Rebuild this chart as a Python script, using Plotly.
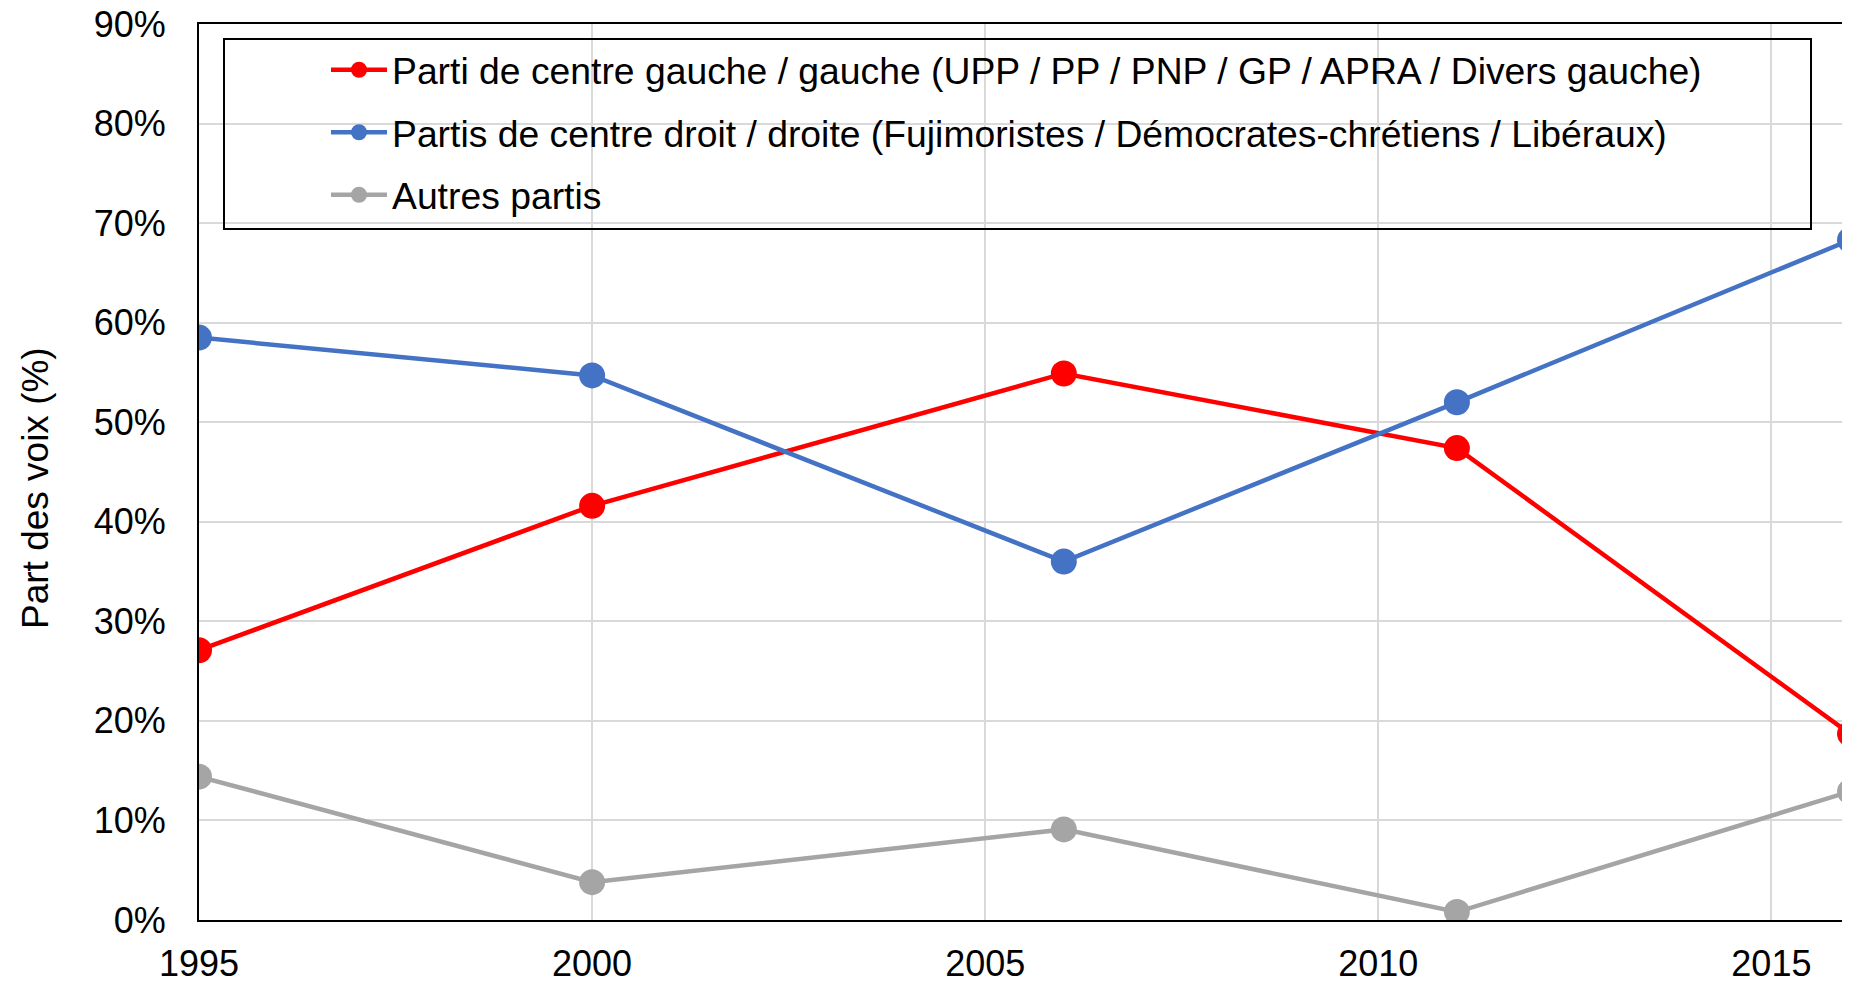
import plotly.graph_objects as go

years = [1995, 2000, 2006, 2011, 2016]
gauche = [27.1, 41.6, 54.9, 47.4, 18.7]
droite = [58.5, 54.7, 36.0, 52.0, 68.3]
autres = [14.4, 3.8, 9.1, 0.8, 12.9]

names = [
    "Parti de centre gauche / gauche (UPP / PP / PNP / GP / APRA / Divers gauche)",
    "Partis de centre droit / droite (Fujimoristes / Démocrates-chrétiens / Libéraux)",
    "Autres partis",
]
colors = ["#FF0000", "#4472C4", "#A5A5A5"]
ytickvals = [0, 10, 20, 30, 40, 50, 60, 70, 80, 90]
yticktext = ["0%", "10%", "20%", "30%", "40%", "50%", "60%", "70%", "80%", "90%"]
xtickvals = [1995, 2000, 2005, 2010, 2015]

FONT = "Liberation Sans, Arial, sans-serif"
PW, PH = 1651, 896  # plot area size in px

fig = go.Figure()
for i, (vals, name, col) in enumerate(zip([gauche, droite, autres], names, colors)):
    fig.add_trace(go.Scatter(
        x=years, y=vals, name=name, mode="lines+markers",
        line=dict(color=col, width=4.5),
        marker=dict(color=col, size=26),
        legendgroup=f"g{i}",
    ))

fig.update_layout(
    width=1842, height=975,
    margin=dict(l=191, r=0, t=16, b=63, autoexpand=False),
    paper_bgcolor="white", plot_bgcolor="white",
    font=dict(family=FONT, size=36, color="black"),
    showlegend=True,
    legend=dict(
        x=127 / PW, y=1 - 15 / PH,
        xanchor="left", yanchor="top",
        bgcolor="rgba(0,0,0,0)",
        font=dict(family=FONT, size=37.3, color="black"),
        tracegroupgap=11,
        itemwidth=56,
    ),
    xaxis=dict(
        range=[1995, 2016], tickvals=xtickvals,
        showgrid=True, gridcolor="#D9D9D9", gridwidth=2,
        showline=True, linecolor="black", linewidth=2, mirror=True,
        zeroline=False, ticks="", tickfont=dict(size=36),
        ticklabelstandoff=11, automargin=False,
    ),
    yaxis=dict(
        range=[0, 90], tickvals=ytickvals, ticktext=yticktext,
        showgrid=True, gridcolor="#D9D9D9", gridwidth=2,
        showline=True, linecolor="black", linewidth=2,
        zeroline=False, ticks="", tickfont=dict(size=36),
        ticklabelstandoff=24, ticklabeloverflow="allow", automargin=False,
    ),
    shapes=[dict(
        type="rect", xref="paper", yref="paper",
        x0=25 / PW, x1=1612 / PW,
        y0=1 - 205 / PH, y1=1 - 15 / PH,
        line=dict(color="black", width=2), fillcolor="rgba(0,0,0,0)",
        layer="above",
    )],
    annotations=[dict(
        text="Part des voix (%)", textangle=-90,
        xref="paper", yref="paper",
        x=-164 / PW, y=1 - 464 / PH,
        xanchor="center", yanchor="middle", showarrow=False,
        font=dict(family=FONT, size=37, color="black"),
    )],
)

fig.write_html("out.html")
